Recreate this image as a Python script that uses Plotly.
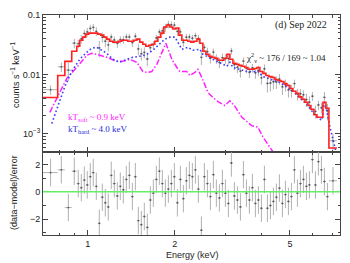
import numpy as np
import plotly.graph_objects as go

# ---------------- data ----------------
# energy bin edges (keV)
edges = [0.70, 0.787, 0.833, 0.880, 0.916, 0.938, 0.961, 0.984, 1.008, 1.032,
         1.057, 1.083, 1.109, 1.136, 1.163, 1.191, 1.220, 1.250, 1.280, 1.311,
         1.343, 1.375, 1.409, 1.443, 1.478, 1.513, 1.550, 1.587, 1.626, 1.665,
         1.705, 1.747, 1.789, 1.832, 1.877, 1.922, 1.969, 2.016, 2.065, 2.115,
         2.166, 2.218, 2.272, 2.327, 2.384, 2.441, 2.500, 2.561, 2.623, 2.686,
         2.750, 2.817, 2.886, 2.955, 3.027, 3.100, 3.175, 3.252, 3.331, 3.411,
         3.494, 3.578, 3.664, 3.753, 3.844, 3.937, 4.032, 4.130, 4.229, 4.332,
         4.436, 4.543, 4.654, 4.766, 4.882, 5.000, 5.120, 5.244, 5.371, 5.501,
         5.634, 5.770, 5.909, 6.053, 6.199, 6.349, 6.502, 6.660, 6.821, 7.27]

# folded total model per bin (counts s^-1 keV^-1)
model = [0.0041, 0.0096, 0.0166, 0.0245,
         0.0298, 0.0377, 0.0424, 0.0477, 0.0496, 0.0496, 0.0496, 0.0477, 0.0459, 0.0424,
         0.0392, 0.0362, 0.0349, 0.0349, 0.0362, 0.0377, 0.0377, 0.0362, 0.0362, 0.0377,
         0.0392, 0.0349, 0.0322, 0.0298, 0.0310, 0.0322, 0.0362, 0.0424, 0.0496, 0.0627,
         0.0677, 0.0627, 0.0580, 0.0603, 0.0459, 0.0377, 0.0377, 0.0362, 0.0349, 0.0362,
         0.0392, 0.0335, 0.0245, 0.0218, 0.0202, 0.0194, 0.0187, 0.0173, 0.0173, 0.0187,
         0.0218, 0.0180, 0.0154, 0.0148, 0.0142, 0.0137, 0.0131, 0.0122, 0.0122, 0.0126,
         0.0131, 0.0112, 0.0104, 0.0096, 0.0092, 0.0089, 0.0082, 0.0079, 0.0076, 0.0070,
         0.0065, 0.0058, 0.0052, 0.0048, 0.0042, 0.0038, 0.0034, 0.0030, 0.0026, 0.0021,
         0.0019, 0.0019, 0.0034, 0.0027,
         0.00058]

# residuals (data-model)/error per bin
resid = [1.4, 1.6, -1.15, 1.5,
         0.6, 0.3, 0.85, 0.5, 1.1, 1.4, 0.4, -2.3, -0.4, -0.8,
         -1.1, 1.2, 0.6, -0.3, 0.4, 0.15, 0.9, 1.2, -0.35, 1.1,
         -2.1, -2.4, -1.8, -2.6, -0.6, -0.1, 0.9, 1.5, 0.6, -0.1,
         0.2, 0.6, 1.1, -0.8, 0.9, -0.5, 0.8, 1.2, 1.1, 1.6,
         0.2, -2.8, 1.1, 0.6, -0.35, 1.25, -0.1, -0.45, 0.6, -0.1,
         -0.85, 2.1, -0.3, -0.6, -1.1, 1.25, -0.1, -0.6, 0.3, -0.85,
         -0.6, -1.2, 0.9, -1.2, -1.0, -0.7, -0.4, 0.27, -0.85, -0.2,
         -0.7, -0.35, 1.6, -0.1, 0.6, 0.9, 0.4, 0.5, 2.35, 0.5,
         2.2, 1.6, 0.75, -0.35,
         0.8]

# fractional 1-sigma error of the data per bin
frac_err = [0.25, 0.25, 0.25, 0.25,
            0.18, 0.18, 0.18, 0.18, 0.18, 0.18, 0.18, 0.18, 0.18, 0.18,
            0.18, 0.15, 0.15, 0.15, 0.15, 0.15, 0.15, 0.15, 0.15, 0.15,
            0.15, 0.15, 0.15, 0.15, 0.15, 0.15, 0.15, 0.15, 0.15, 0.15,
            0.15, 0.15, 0.15, 0.15, 0.15, 0.15, 0.15, 0.15, 0.15, 0.15,
            0.15, 0.15, 0.15, 0.18, 0.18, 0.18, 0.18, 0.18, 0.18, 0.18,
            0.18, 0.18, 0.18, 0.18, 0.18, 0.18, 0.18, 0.18, 0.18, 0.18,
            0.18, 0.18, 0.22, 0.22, 0.22, 0.22, 0.22, 0.22, 0.22, 0.22,
            0.22, 0.22, 0.22, 0.22, 0.22, 0.22, 0.28, 0.28, 0.28, 0.28,
            0.28, 0.28, 0.28, 0.28,
            0.40]

# soft (kT ~ 0.9 keV) component
soft_E = [0.739, 0.806, 0.846, 0.916, 0.992, 1.032, 1.074, 1.163, 1.260, 1.322,
          1.397, 1.478, 1.513, 1.550, 1.600, 1.665, 1.733, 1.804, 1.862, 1.907,
          1.953, 2.032, 2.082, 2.200, 2.254, 2.346, 2.402, 2.480, 2.602, 2.707,
          2.817, 2.979, 3.100, 3.226, 3.411, 3.694, 3.875, 4.032, 4.196, 4.367]
soft_val = [0.0023, 0.0056, 0.0086, 0.0131, 0.0210, 0.0227, 0.0218, 0.0194, 0.0166, 0.0166,
            0.0180, 0.0160, 0.0137, 0.0112, 0.0108, 0.0112, 0.0148, 0.0236, 0.0335, 0.0245,
            0.0180, 0.0131, 0.0112, 0.0112, 0.0096, 0.0108, 0.0122, 0.0089, 0.0050, 0.0041,
            0.0035, 0.0030, 0.0036, 0.0029, 0.0019, 0.00137, 0.0013, 0.00089, 0.00065, 0.0005]

# hard (kT ~ 4.0 keV) component
hard_E = [0.751, 0.787, 0.833, 0.880, 0.938, 1.000, 1.032, 1.074, 1.100, 1.163,
          1.220, 1.260, 1.290, 1.364, 1.431, 1.513, 1.600, 1.679, 1.775, 1.847,
          1.922, 2.000, 2.048, 2.115, 2.218, 2.308, 2.441, 2.500, 2.707, 3.027,
          3.100, 3.175, 3.549, 3.875, 4.032, 4.617, 5.120, 5.725, 6.199, 6.451,
          6.555, 6.714, 6.877, 7.043, 7.213]
hard_val = [0.0015, 0.0029, 0.0063, 0.0112, 0.0180, 0.0245, 0.0276, 0.0287, 0.0265, 0.0227,
            0.0180, 0.0166, 0.0160, 0.0180, 0.0194, 0.0202, 0.0218, 0.0255, 0.0322, 0.0392,
            0.0424, 0.0424, 0.0349, 0.0265, 0.0287, 0.0255, 0.0265, 0.0218, 0.0180, 0.0137,
            0.0160, 0.0131, 0.0112, 0.0112, 0.0092, 0.0073, 0.0052, 0.0031, 0.0019, 0.0017,
            0.0034, 0.0024, 0.0013, 0.00079, 0.0005]

x_ticks = [1, 2, 5]
x_ticktext = ["1", "2", "5"]
y_ticks = [0.1, 0.01, 0.001]
y_ticktext = ["0.1", "0.01", "10<sup>\u22123</sup>"]
r_ticks = [-2, 0, 2]
r_ticktext = ["\u22122", "0", "2"]

assert len(edges) == len(model) + 1 == len(resid) + 1 == len(frac_err) + 1

# ---------------- derived ----------------
lo = np.array(edges[:-1]); hi = np.array(edges[1:])
ec = 0.5 * (lo + hi)
m = np.array(model); r = np.array(resid); f = np.array(frac_err)
err = m * f
counts = m + r * err

W, H = 350, 263
ML, MR, MT, MB = 43, 10, 15, 28
PW, PH = W - ML - MR, H - MT - MB
split = 83 / PH

def pxx(px):
    return (px - ML) / PW

def pxy(py):
    return (H - MB - py) / PH

SANS = "Liberation Sans, Arial, sans-serif"
SERIF = "Liberation Serif, Times New Roman, serif"
AX = "#444444"
BAR = "#a8a8a8"

fig = go.Figure()

# data in the upper panel
fig.add_trace(go.Scatter(
    x=ec, y=counts, mode="markers", xaxis="x", yaxis="y",
    marker=dict(size=1.8, color="#555555"),
    error_x=dict(type="data", symmetric=False, array=hi - ec, arrayminus=ec - lo,
                 color=BAR, thickness=0.9, width=0),
    error_y=dict(type="data", array=err, color=BAR, thickness=0.9, width=0),
    showlegend=False, hoverinfo="skip"))

fig.add_trace(go.Scatter(x=soft_E, y=soft_val, mode="lines", xaxis="x", yaxis="y",
                         line=dict(color="#ff22ff", width=1.5, dash="6px,2px,1.5px,2px"),
                         showlegend=False))
fig.add_trace(go.Scatter(x=hard_E, y=hard_val, mode="lines", xaxis="x", yaxis="y",
                         line=dict(color="#3a3aff", width=1.6, dash="1.6px,2.4px"),
                         showlegend=False))

# total model as a step histogram
step_x = list(lo) + [hi[-1]]
step_y = list(m) + [m[-1]]
fig.add_trace(go.Scatter(x=step_x, y=step_y, mode="lines", xaxis="x", yaxis="y",
                         line=dict(color="#ff2020", width=1.6, shape="hv"),
                         showlegend=False))

# residuals
fig.add_trace(go.Scatter(
    x=ec, y=r, mode="markers", xaxis="x2", yaxis="y2",
    marker=dict(size=1.8, color="#555555"),
    error_x=dict(type="data", symmetric=False, array=hi - ec, arrayminus=ec - lo,
                 color=BAR, thickness=0.9, width=0),
    error_y=dict(type="constant", value=1, color=BAR, thickness=0.9, width=0),
    showlegend=False, hoverinfo="skip"))

fig.add_shape(type="line", xref="x2 domain", yref="y2", x0=0, x1=1, y0=0, y1=0,
              line=dict(color="#66ee66", width=1.5))

xr = [np.log10(0.70), np.log10(7.45)]
common_x = dict(type="log", range=xr, showline=True, linecolor=AX, linewidth=1,
                mirror="allticks", ticks="inside", ticklen=5, tickcolor=AX,
                tickvals=x_ticks, ticktext=x_ticktext, showgrid=False, zeroline=False,
                minor=dict(tickvals=[0.7, 0.8, 0.9, 3, 4, 6, 7], ticks="inside",
                           ticklen=2.5, tickcolor=AX),
                tickfont=dict(family=SANS, size=9, color="#222"))

y_minor = [k * 10.0 ** e for e in (-4, -3, -2) for k in range(2, 10)]

fig.update_layout(
    width=W, height=H, margin=dict(l=ML, r=MR, t=MT, b=MB),
    paper_bgcolor="white", plot_bgcolor="white",
    xaxis=dict(common_x, domain=[0, 1], anchor="y", showticklabels=False),
    xaxis2=dict(common_x, domain=[0, 1], anchor="y2", matches="x", ticklabelstandoff=0),
    yaxis=dict(type="log", domain=[split, 1], range=[-3.305, -1.0], anchor="x",
               showline=True, linecolor=AX, linewidth=1, mirror="allticks",
               ticks="inside", ticklen=5, tickcolor=AX, showgrid=False, zeroline=False,
               tickvals=y_ticks, ticktext=y_ticktext,
               minor=dict(tickvals=y_minor, ticks="inside", ticklen=2.5, tickcolor=AX),
               tickfont=dict(family=SANS, size=9, color="#222")),
    yaxis2=dict(domain=[0, split], range=[-3.15, 2.9], anchor="x2",
                showline=True, linecolor=AX, linewidth=1, mirror="allticks",
                ticks="inside", ticklen=5, tickcolor=AX, showgrid=False, zeroline=False,
                tickvals=r_ticks, ticktext=r_ticktext,
                minor=dict(dtick=1, tick0=-3, ticks="inside", ticklen=2.5, tickcolor=AX),
                tickfont=dict(family=SANS, size=9, color="#222")),
)

ann = [
    dict(text="counts s<sup>\u22121</sup> keV<sup>\u22121</sup>", x=pxx(15), y=pxy(75),
         textangle=-90, font=dict(family=SANS, size=9, color="#222")),
    dict(text="(data\u2212model)/error", x=pxx(14), y=pxy(193),
         textangle=-90, font=dict(family=SANS, size=9, color="#222")),
    dict(text="Energy (keV)", x=pxx(192), y=pxy(255),
         font=dict(family=SANS, size=9, color="#222")),
    dict(text="(d) Sep 2022", x=pxx(329), y=pxy(25), xanchor="right",
         font=dict(family=SERIF, size=10, color="#222")),
    dict(text="\u03c7<sup>2</sup><sub>\u03bd</sub> ~ 176 / 169 ~ 1.04", x=pxx(328), y=pxy(57),
         xanchor="right", font=dict(family=SERIF, size=9, color="#222")),
    dict(text="kT<sub>soft</sub> ~ 0.9 keV", x=pxx(66), y=pxy(118), xanchor="left",
         font=dict(family=SERIF, size=9, color="#ff22ff")),
    dict(text="kT<sub>hard</sub> ~ 4.0 keV", x=pxx(66), y=pxy(129), xanchor="left",
         font=dict(family=SERIF, size=9, color="#2a2ae0")),
]
for a in ann:
    a.update(xref="paper", yref="paper", showarrow=False)
    a.setdefault("xanchor", "center")
    a.setdefault("yanchor", "middle")
fig.update_layout(annotations=ann)

fig.write_html("out.html", config={"displayModeBar": False})

# remove the default page margin so the figure sits at the window's top-left corner
with open("out.html", "r", encoding="utf-8") as fh:
    html = fh.read()
html = html.replace("<head>", "<head><style>html,body{margin:0;padding:0;overflow:hidden}</style>", 1)
with open("out.html", "w", encoding="utf-8") as fh:
    fh.write(html)
